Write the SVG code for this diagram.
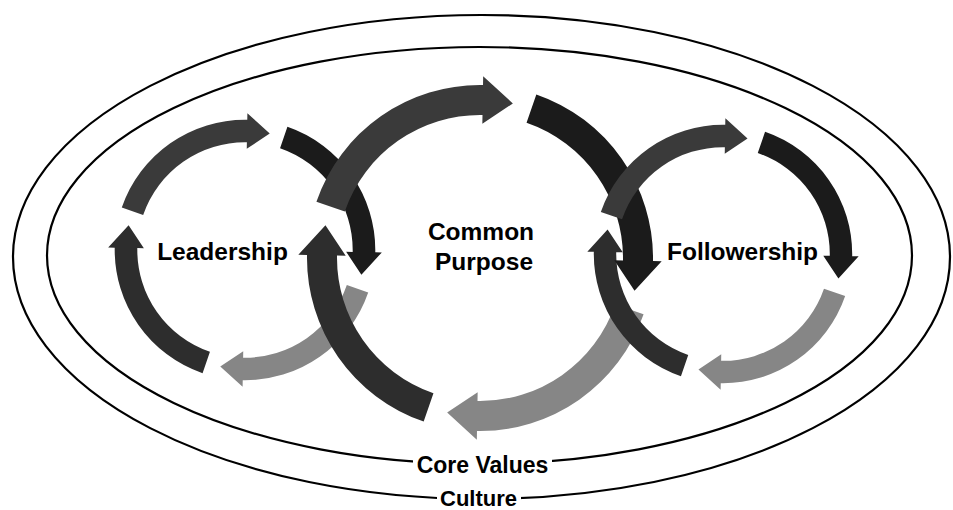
<svg xmlns="http://www.w3.org/2000/svg" xmlns:xlink="http://www.w3.org/1999/xlink" width="953" height="510" viewBox="0 0 953 510">
  <style>
    .ring { fill: none; stroke: #000; stroke-width: 2.2; }
    .lbl { font-family: "Liberation Sans", Arial, Helvetica, sans-serif; font-weight: bold; fill: #000; text-anchor: middle; }
    .big { font-size: 24.5px; }
    .small { font-size: 23px; }
    .tiny { font-size: 22px; }
    .gap { fill: #fff; }
    .a-top { fill: #3a3a3a; }
    .a-right { fill: #1b1b1b; }
    .a-light { fill: #868686; }
    .a-up { fill: #2d2d2d; }
  </style>
  <defs>
    <!-- curved arrow, circle radius 100 at centre 0,0; tail at 199deg, tip at 282deg -->
    <path id="arc-arrow" d="M -103.53 -35.65 A 109.5 109.5 0 0 1 1.911 -109.48 L 2.007 -114.98 L 20.79 -97.81 L 1.483 -84.99 L 1.579 -90.49 A 90.5 90.5 0 0 0 -85.57 -29.46 Z"/>
  </defs>
  <rect width="953" height="510" fill="#fff"/>

  <g id="culture">
    <ellipse class="ring" cx="481.5" cy="257" rx="468.5" ry="242"/>
    <rect class="gap" x="437" y="490" width="84" height="20"/>
    <text class="lbl tiny" x="478.5" y="506">Culture</text>
  </g>

  <g id="core-values">
    <ellipse class="ring" cx="479.5" cy="255.5" rx="432.5" ry="208.5"/>
    <rect class="gap" x="413" y="454" width="139" height="22"/>
    <text class="lbl small" x="482.5" y="472.5">Core Values</text>
  </g>

  <g id="connectors">
    <g id="light-arrows">
      <use xlink:href="#arc-arrow" class="a-light" transform="translate(245 250) scale(1.19) rotate(180)"/>
      <use xlink:href="#arc-arrow" class="a-light" transform="translate(480 258) scale(1.58) rotate(180)"/>
      <use xlink:href="#arc-arrow" class="a-light" transform="translate(723 254) scale(1.18) rotate(180)"/>
    </g>
    <g id="up-arrows">
      <use xlink:href="#arc-arrow" class="a-up" transform="translate(245 250) scale(1.19) rotate(270)"/>
      <use xlink:href="#arc-arrow" class="a-up" transform="translate(480 258) scale(1.58) rotate(270)"/>
      <use xlink:href="#arc-arrow" class="a-up" transform="translate(723 254) scale(1.18) rotate(270)"/>
    </g>
    <g id="right-arrows">
      <use xlink:href="#arc-arrow" class="a-right" transform="translate(245 250) scale(1.19) rotate(90)"/>
      <use xlink:href="#arc-arrow" class="a-right" transform="translate(480 258) scale(1.58) rotate(90)"/>
      <use xlink:href="#arc-arrow" class="a-right" transform="translate(723 254) scale(1.18) rotate(90)"/>
    </g>
    <g id="top-arrows">
      <use xlink:href="#arc-arrow" class="a-top" transform="translate(245 250) scale(1.19)"/>
      <use xlink:href="#arc-arrow" class="a-top" transform="translate(480 258) scale(1.58)"/>
      <use xlink:href="#arc-arrow" class="a-top" transform="translate(723 254) scale(1.18)"/>
    </g>
  </g>

  <g id="leadership">
    <text class="lbl big" x="222.5" y="260">Leadership</text>
  </g>
  <g id="common-purpose">
    <text class="lbl big" x="481" y="240">Common</text>
    <text class="lbl big" x="484" y="270">Purpose</text>
  </g>
  <g id="followership">
    <text class="lbl big" x="742.5" y="260">Followership</text>
  </g>
</svg>
